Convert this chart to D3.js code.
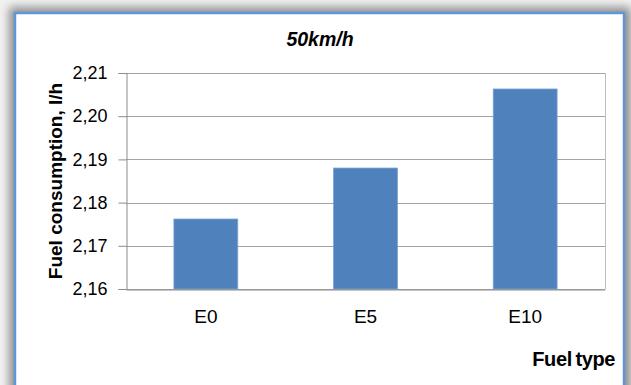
<!DOCTYPE html>
<html>
<head>
<meta charset="utf-8">
<script src="https://cdn.jsdelivr.net/npm/d3@7/dist/d3.min.js"></script>
<style>
  html, body { margin: 0; padding: 0; background: #ffffff; }
  svg { display: block; }
</style>
</head>
<body>
<svg id="chart" width="631" height="385"></svg>
<script>
// Fuel consumption at 50 km/h by fuel type
const categories = ["E0", "E5", "E10"];
const consumption = [2.1762, 2.188, 2.2063];
const yTicks = [2.16, 2.17, 2.18, 2.19, 2.20, 2.21];
const chartTitle = "50km/h";
const yTitle = "Fuel consumption, l/h";
const xTitle = "Fuel type";

const svg = d3.select("#chart");
const W = 631, H = 385;
const font = "'Liberation Sans', Arial, sans-serif";

// page backdrop and soft shadow behind the chart panel
const defs = svg.append("defs");
const blur = defs.append("filter").attr("id", "shadow")
  .attr("x", "-10%").attr("y", "-10%").attr("width", "120%").attr("height", "120%");
blur.append("feGaussianBlur").attr("stdDeviation", 5);

svg.append("rect").attr("width", W).attr("height", H).attr("fill", "#f2f2f2");
svg.append("rect")
  .attr("x", 9).attr("y", 7).attr("width", 622).attr("height", 390)
  .attr("fill", "#8f8f8f").attr("filter", "url(#shadow)");

// chart panel
svg.append("rect")
  .attr("x", 15).attr("y", 13).attr("width", 609).attr("height", 380)
  .attr("fill", "#ffffff").attr("stroke", "#5f96d6").attr("stroke-width", 2.5);

const plot = { left: 126, right: 605, top: 73, bottom: 289 };

const x = d3.scaleBand()
  .domain(categories)
  .range([plot.left, plot.right])
  .paddingInner(0.6)
  .paddingOuter(0.3);

const y = d3.scaleLinear()
  .domain([2.16, 2.21])
  .range([plot.bottom, plot.top]);

// horizontal gridlines
svg.append("g")
  .selectAll("line")
  .data(yTicks)
  .join("line")
  .attr("x1", plot.left).attr("x2", plot.right)
  .attr("y1", d => Math.round(y(d)) + 0.5).attr("y2", d => Math.round(y(d)) + 0.5)
  .attr("stroke", "#a3a3a3").attr("stroke-width", 1);

// right edge of plot area
svg.append("line")
  .attr("x1", plot.right + 0.5).attr("x2", plot.right + 0.5)
  .attr("y1", plot.top).attr("y2", plot.bottom)
  .attr("stroke", "#bdbdbd");

// bars
svg.append("g")
  .selectAll("rect")
  .data(categories)
  .join("rect")
  .attr("x", d => x(d))
  .attr("width", x.bandwidth())
  .attr("y", (d, i) => y(consumption[i]))
  .attr("height", (d, i) => y(2.16) - y(consumption[i]))
  .attr("fill", "#4f81bd")
  .attr("stroke", "#7aa3d4").attr("stroke-width", 0.8);

// y axis
const yAxis = d3.axisLeft(y)
  .tickValues(yTicks)
  .tickSize(8)
  .tickPadding(11)
  .tickFormat(d => d3.format(".2f")(d).replace(".", ","));
const gy = svg.append("g")
  .attr("transform", `translate(${plot.left + 0.5},0)`)
  .call(yAxis);
gy.select(".domain").attr("stroke", "#8c8c8c");
gy.selectAll(".tick line").attr("stroke", "#8c8c8c");
gy.selectAll(".tick text")
  .attr("font-family", font).attr("font-size", 18).attr("fill", "#000");

// x axis
const xAxis = d3.axisBottom(x).tickSize(0).tickPadding(20);
const gx = svg.append("g")
  .attr("transform", `translate(0,${plot.bottom + 0.5})`)
  .call(xAxis);
gx.select(".domain").attr("stroke", "#8c8c8c");
gx.selectAll(".tick text")
  .attr("font-family", font).attr("font-size", 19).attr("fill", "#000");

// titles
svg.append("text")
  .attr("x", 320).attr("y", 46)
  .attr("text-anchor", "middle")
  .attr("font-family", font).attr("font-size", 19.5)
  .attr("font-weight", "bold").attr("font-style", "italic")
  .text(chartTitle);

svg.append("text")
  .attr("transform", "translate(62,181) rotate(-90)")
  .attr("text-anchor", "middle")
  .attr("font-family", font).attr("font-size", 19)
  .attr("font-weight", "bold")
  .text(yTitle);

svg.append("text")
  .attr("x", 615).attr("y", 366)
  .attr("text-anchor", "end")
  .attr("font-family", font).attr("font-size", 20)
  .attr("font-weight", "bold").attr("letter-spacing", -0.4).attr("word-spacing", -1.5)
  .text(xTitle);
</script>
</body>
</html>
